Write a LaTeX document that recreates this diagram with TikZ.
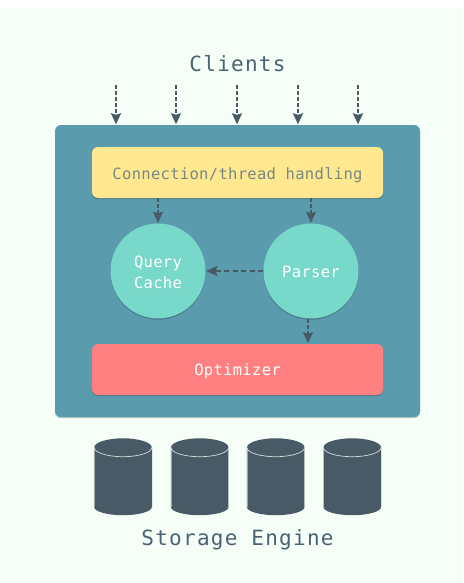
\documentclass[tikz,border=0pt]{standalone}
\usepackage{fontspec}
\usetikzlibrary{arrows.meta,shadows}
\newfontfamily\bigmono[LetterSpace=6]{DejaVu Sans Mono}
\newfontfamily\midmono[LetterSpace=2]{DejaVu Sans Mono}
\definecolor{bgmint}{HTML}{F5FFF8}
\definecolor{panelteal}{HTML}{5A9CAE}
\definecolor{baryellow}{HTML}{FFE88F}
\definecolor{barred}{HTML}{FF8080}
\definecolor{circteal}{HTML}{78D8CA}
\definecolor{slate}{HTML}{485A65}
\definecolor{titleink}{HTML}{4A6372}
\definecolor{barink}{HTML}{758A85}
\definecolor{rimline}{HTML}{D5DCDC}
\tikzset{
  softshadow/.style={drop shadow={shadow xshift=0pt,shadow yshift=-1.2pt,opacity=.22,fill=black}},
  panelbox/.style={draw=none,fill=panelteal,rounded corners=6pt,minimum width=365pt,minimum height=292pt,inner sep=0pt,softshadow},
  barbox/.style={draw=none,rounded corners=6pt,minimum width=291pt,minimum height=51pt,inner sep=0pt,softshadow,font=\midmono\fontsize{15.5}{18}\selectfont,text height=14pt,text depth=0.5pt},
  roundbox/.style={circle,draw=none,fill=circteal,minimum size=95pt,inner sep=0pt,softshadow,text=white,font=\midmono\fontsize{15.5}{20}\selectfont,align=center},
  flow/.style={draw=slate,line width=1.7pt,dash pattern=on 4pt off 2pt,-{Stealth[length=11pt,width=10pt,inset=1.5pt]},shorten >=0.5pt},
  flowlong/.style={flow,dash pattern=on 5pt off 3.5pt},
  title/.style={text=titleink,font=\bigmono\fontsize{21}{25}\selectfont,inner sep=0pt},
}
\begin{document}
\begin{tikzpicture}[x=1pt,y=-1pt]
\useasboundingbox (0,0) rectangle (463,583);
\fill[bgmint] (0,8) rectangle (463,583);
\node[title] (clients) at (237.5,64) {Clients};
\node[panelbox] (panel) at (237.5,271) {};
\node[barbox,fill=baryellow,text=barink] (conn) at (237.5,172.5) {Connection/thread handling};
\node[roundbox] (query) at (158,271) {\rule{0pt}{15pt}Query\\[1pt]Cache};
\node[roundbox] (parser) at (311,271) {\rule{0pt}{14pt}Parser};
\node[barbox,fill=barred,text=white,text height=13pt] (opt) at (237.5,369.5) {Optimizer};
\foreach \n/\x in {a/116,b/176,c/237,d/298,e/358}{
  \coordinate (src\n) at (\x,85);
  \draw[flow] (src\n) -- (src\n |- panel.north);
}
\draw[flow] (query |- conn.south) -- (query.north);
\draw[flow] (parser |- conn.south) -- (parser.north);
\draw[flowlong] (parser.west) -- (query.east);
\coordinate (pout) at (308,319);
\draw[flow] (pout) -- (pout |- opt.north);
\foreach \x in {123,199.75,275.75,352.25}{
  \fill[slate] (\x-28.8,447.5) arc[start angle=180,end angle=360,x radius=28.8,y radius=9.2]
    -- (\x+28.8,507) arc[start angle=0,end angle=180,x radius=28.8,y radius=8.2] -- cycle;
  \draw[rimline,line width=0.7pt] (\x-28.8,447.5) arc[start angle=180,end angle=360,x radius=28.8,y radius=-9.2];
  \draw[rimline,line width=0.4pt,opacity=.6] (\x-28.8,447.5) -- (\x-28.8,507) (\x+28.8,447.5) -- (\x+28.8,507);
}
\node[title] (storage) at (237.5,539.5) {Storage Engine};
\end{tikzpicture}
\end{document}
